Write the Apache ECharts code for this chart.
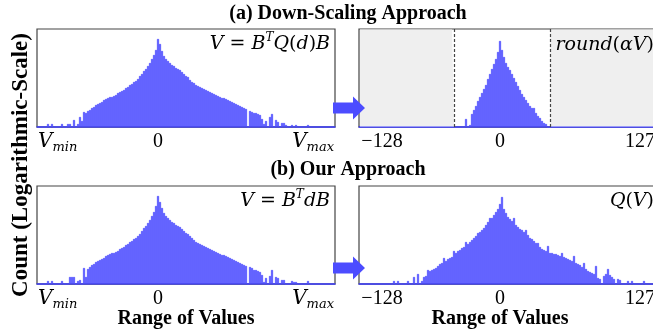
<!DOCTYPE html>
<html>
<head>
<meta charset="utf-8">
<script src="https://cdn.jsdelivr.net/npm/echarts@6/dist/echarts.min.js"></script>
<style>
  html, body { margin: 0; padding: 0; background: #fff; }
  #chart { width: 653px; height: 333px; }
</style>
</head>
<body>
<div id="chart"></div>
<script>
// log-scale counts (bin = one category)
const leftBins = Array.from({ length: 149 }, (_, i) => String(i - 60));
const rightBins = Array.from({ length: 150 }, (_, i) => String(i - 70));

// (a) V = B^T Q(d) B
const countsA = [
  0, 0, 0, 0, 0, 3, 0, 3, 0, 0,
  0, 0, 3, 0, 0, 3, 3, 0, 7, 0,
  3, 10, 6, 15, 14, 16, 17, 19, 20, 22,
  23, 24, 25, 27, 28, 29, 30, 30, 31, 32,
  34, 35, 36, 37, 39, 40, 42, 43, 45, 46,
  48, 51, 53, 56, 58, 61, 64, 68, 72, 77,
  88, 83, 76, 71, 68, 66, 64, 62, 61, 59,
  58, 57, 55, 53, 51, 50, 47, 45, 44, 42,
  41, 40, 39, 38, 37, 36, 35, 34, 33, 32,
  31, 30, 29, 29, 28, 27, 26, 25, 24, 23,
  22, 21, 20, 19, 18, 0, 16, 15, 14, 14,
  13, 12, 8, 3, 6, 0, 10, 13, 0, 7,
  5, 0, 4, 4, 2, 0, 0, 2, 0, 2,
  0, 0, 0, 0, 0, 2, 0, 0, 0, 0,
  0, 0, 0, 0, 0, 0, 0, 0, 0
];

// (a) round(aV), starts at bin index firstB
const firstB = 53;
const countsB = [
  8, 0, 2, 13, 17, 21, 26, 30, 34, 38,
  42, 48, 53, 58, 63, 68, 75, 86, 77, 70,
  64, 60, 57, 53, 49, 45, 41, 37, 33, 30,
  27, 24, 21, 19, 19, 14, 11, 9, 6, 4, 3
];
// int8 clipping range of the down-scaled values (dashed lines)
const clipLow = '-23';
const clipHigh = '25';
const shadeTop = 97.5;

// (b) V = B^T d B
const countsC = [
  0, 0, 0, 0, 0, 3, 0, 3, 0, 0,
  0, 0, 3, 0, 0, 0, 7, 7, 7, 0,
  3, 4, 0, 16, 7, 15, 17, 19, 20, 22,
  23, 24, 25, 26, 28, 29, 30, 31, 31, 32,
  33, 35, 36, 37, 39, 40, 42, 43, 45, 46,
  48, 50, 53, 56, 58, 61, 64, 68, 72, 78,
  88, 82, 76, 71, 68, 66, 64, 62, 61, 59,
  58, 57, 55, 53, 51, 50, 48, 46, 44, 42,
  41, 40, 39, 38, 37, 36, 35, 34, 33, 32,
  31, 30, 29, 29, 28, 27, 26, 25, 24, 23,
  22, 21, 20, 19, 18, 0, 17, 16, 14, 14,
  13, 12, 9, 2, 6, 0, 8, 14, 0, 7,
  6, 0, 4, 4, 0, 0, 0, 3, 2, 2,
  0, 0, 0, 0, 0, 3, 0, 0, 0, 0,
  0, 0, 0, 0, 0, 0, 0, 0, 0
];

// (b) Q(V), starts at bin index firstD
const firstD = 17;
const countsD = [
  3, 0, 3, 0, 0, 0, 0, 3, 0, 0,
  7, 0, 10, 0, 3, 7, 8, 14, 13, 14,
  15, 16, 18, 20, 21, 26, 23, 25, 26, 27,
  33, 31, 33, 34, 36, 37, 42, 40, 42, 44,
  46, 48, 51, 52, 54, 56, 59, 62, 66, 66,
  69, 72, 75, 80, 87, 75, 71, 67, 65, 63,
  66, 59, 57, 55, 54, 52, 54, 49, 46, 45,
  43, 41, 41, 37, 35, 34, 33, 38, 31, 31,
  30, 30, 29, 28, 31, 27, 26, 25, 24, 23,
  28, 21, 20, 19, 17, 21, 15, 13, 12, 11,
  10, 18, 6, 5, 0, 8, 10, 15, 9, 7,
  5, 0, 5, 4, 0, 0, 0, 3, 0, 3,
  0, 0, 0, 0, 0, 3
];

const labelsLeft = { '-60': '{v|V}{s|min}', '0': '{n|0}', '88': '{v|V}{s|max}' };
const labelsRight = { '-59': '{n|−128}', '0': '{n|0}', '70': '{n|127}' };

function pad(values, first, total) {
  const out = new Array(total).fill(0);
  values.forEach((v, i) => { out[first + i] = v; });
  return out;
}

const chart = echarts.init(document.getElementById('chart'), null, { renderer: 'canvas' });

const barColor = '#4c4cff';
const math = '"DejaVu Serif"';
const serif = '"Liberation Serif", "Times New Roman", serif';

const labelRich = {
  v: { fontFamily: math, fontStyle: 'italic', fontSize: 20, color: '#000', lineHeight: 24 },
  s: { fontFamily: math, fontStyle: 'italic', fontSize: 13, color: '#000', lineHeight: 12, verticalAlign: 'bottom' },
  n: { fontFamily: serif, fontSize: 20, color: '#000', lineHeight: 24 }
};

function xAxisFor(gridIndex, cats, labels, alignEnds) {
  const axisLabel = {
    interval: (i, v) => v in labels,
    formatter: (v) => labels[v] || '',
    rich: labelRich,
    margin: 3,
    hideOverlap: false
  };
  if (alignEnds) {
    axisLabel.alignMinLabel = 'left';
    axisLabel.alignMaxLabel = 'right';
  }
  return {
    type: 'category',
    gridIndex,
    data: cats,
    boundaryGap: true,
    axisTick: { show: false },
    axisLine: { show: true, lineStyle: { color: '#3a3ad0', width: 1.5 } },
    splitLine: { show: false },
    axisLabel
  };
}

function yAxisFor(gridIndex) {
  return { type: 'value', gridIndex, min: 0, max: 98, show: false };
}

const gridBase = {
  show: true, borderColor: '#444', borderWidth: 1.2, backgroundColor: 'transparent',
  containLabel: false, outerBoundsMode: 'none'
};

function barSeries(idx, data, extra) {
  return Object.assign({
    type: 'bar',
    xAxisIndex: idx,
    yAxisIndex: idx,
    data,
    barCategoryGap: '0%',
    barGap: '0%',
    itemStyle: { color: barColor, borderColor: barColor, borderWidth: 0.6, borderRadius: 0 },
    silent: true
  }, extra || {});
}

const mathRich = {
  m: { fontFamily: math, fontStyle: 'italic', fontSize: 19, color: '#000', lineHeight: 24 },
  e: { fontFamily: math, fontSize: 19, color: '#000', lineHeight: 24 },
  t: { fontFamily: math, fontStyle: 'italic', fontSize: 12, color: '#000', lineHeight: 14, verticalAlign: 'top' }
};

function mathText(x, y, text) {
  return { type: 'text', x, y, z: 10, style: { text, rich: mathRich, align: 'right', verticalAlign: 'middle' } };
}

function boldText(x, y, text, size, rotation) {
  return {
    type: 'text', x, y, rotation: rotation || 0, z: 10,
    style: { text, font: 'bold ' + size + 'px ' + serif, fill: '#000', align: 'center', verticalAlign: 'middle' }
  };
}

function arrow(y) {
  return {
    type: 'polygon', z: 10,
    shape: { points: [[333, y - 5.5], [353, y - 5.5], [353, y - 11.5], [365, y], [353, y + 11.5], [353, y + 5.5], [333, y + 5.5]] },
    style: { fill: barColor }
  };
}

const lowIdx = rightBins.indexOf(clipLow);
const highIdx = rightBins.indexOf(clipHigh);
// grey band outside the clipping range
const shadeB = rightBins.map((_, i) => (i <= lowIdx || i >= highIdx ? shadeTop : null));

chart.setOption({
  animation: false,
  backgroundColor: '#fff',
  grid: [
    Object.assign({ left: 37, top: 29, width: 298, height: 98 }, gridBase),
    Object.assign({ left: 359, top: 29, width: 300, height: 98 }, gridBase),
    Object.assign({ left: 37, top: 186, width: 298, height: 98 }, gridBase),
    Object.assign({ left: 359, top: 186, width: 300, height: 98 }, gridBase)
  ],
  xAxis: [
    xAxisFor(0, leftBins, labelsLeft, true),
    xAxisFor(1, rightBins, labelsRight, false),
    xAxisFor(2, leftBins, labelsLeft, true),
    xAxisFor(3, rightBins, labelsRight, false)
  ],
  yAxis: [yAxisFor(0), yAxisFor(1), yAxisFor(2), yAxisFor(3)],
  series: [
    barSeries(0, countsA),
    {
      type: 'line',
      xAxisIndex: 1,
      yAxisIndex: 1,
      data: shadeB,
      symbol: 'none',
      connectNulls: false,
      lineStyle: { width: 0 },
      areaStyle: { color: '#efefef', opacity: 1 },
      z: 1,
      silent: true
    },
    barSeries(1, pad(countsB, firstB, rightBins.length), {
      markLine: {
        silent: true,
        symbol: ['none', 'none'],
        label: { show: false },
        lineStyle: { color: '#444', type: [3, 2], width: 1.2 },
        data: [{ xAxis: lowIdx }, { xAxis: highIdx }]
      }
    }),
    barSeries(2, countsC),
    barSeries(3, pad(countsD, firstD, rightBins.length))
  ],
  graphic: [
    boldText(348, 14, '(a) Down-Scaling Approach', 20),
    boldText(348, 170, '(b) Our Approach', 20),
    boldText(21, 165, 'Count (Logarithmic-Scale)', 23, Math.PI / 2),
    boldText(186, 319, 'Range of Values', 20),
    boldText(500, 319, 'Range of Values', 20),
    mathText(330, 44, '{m|V}{e| = }{m|B}{t|T}{m|Q}{e|(}{m|d}{e|)}{m|B}'),
    mathText(654, 45, '{m|round}{e|(}{m|αV}{e|)}'),
    mathText(330, 201, '{m|V}{e| = }{m|B}{t|T}{m|dB}'),
    mathText(654, 201, '{m|Q}{e|(}{m|V}{e|)}'),
    arrow(108),
    arrow(268)
  ]
});
</script>
</body>
</html>
